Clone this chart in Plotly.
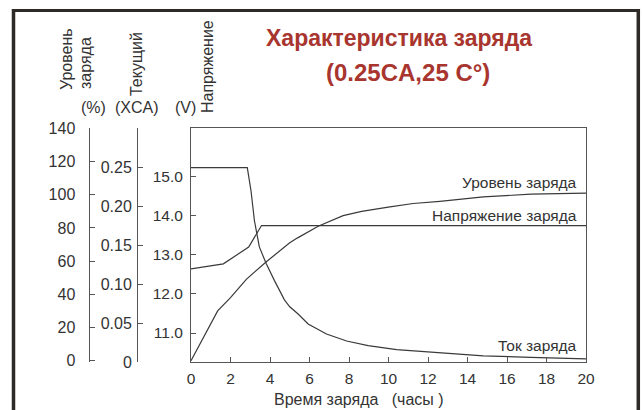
import plotly.graph_objects as go

# ---------------- data ----------------
hours_current = [0, 2.85, 3.04, 3.21, 3.46, 3.8, 4.22, 4.73, 5.0, 5.41, 5.93, 6.86, 7.88, 8.97, 10.41, 12.6, 14.8, 17.2, 20]
current = [0.25, 0.25, 0.22, 0.182, 0.148, 0.127, 0.105, 0.080, 0.071, 0.062, 0.049, 0.036, 0.027, 0.021, 0.016, 0.012, 0.008, 0.006, 0.004]

hours_voltage = [0, 1.64, 2.92, 3.57, 20]
voltage = [12.64, 12.77, 13.2, 13.75, 13.75]

hours_soc = [0, 1.35, 2.0, 2.8, 3.8, 4.4, 5.0, 5.4, 6.44, 7.7, 8.64, 10.07, 11.25, 12.6, 14.8, 17.2, 20]
soc = [0, 30, 38, 49, 59.5, 65, 71, 74, 81, 87.4, 90, 92.7, 94.7, 96, 98.7, 100.3, 101]

x_ticks = [0, 2, 4, 6, 8, 10, 12, 14, 16, 18, 20]
v_ticks = [11, 12, 13, 14, 15]
v_labels = ["11.0", "12.0", "13.0", "14.0", "15.0"]
c_ticks = [0, 0.05, 0.10, 0.15, 0.20, 0.25, 0.30]
c_labels = ["0", "0.05", "0.10", "0.15", "0.20", "0.25", ""]
p_ticks = [0, 20, 40, 60, 80, 100, 120, 140]

series_names = ["Уровень заряда", "Напряжение заряда", "Ток заряда"]

# ---------------- layout helpers ----------------
W, H = 643, 410
ML, MR, MT, MB = 20, 57, 128, 48
PW = W - ML - MR
PH = H - MT - MB


def px(x):
    return (x - ML) / PW


def py(y):
    return (H - MB - y) / PH


FONT = "Liberation Sans, Arial, sans-serif"
TXT = "#333333"
LINE = "#3a3a3a"

fig = go.Figure()
fig.add_trace(go.Scatter(x=hours_soc, y=soc, mode="lines", yaxis="y3",
                         line=dict(color=LINE, width=1.2), name=series_names[0]))
fig.add_trace(go.Scatter(x=hours_voltage, y=voltage, mode="lines", yaxis="y",
                         line=dict(color=LINE, width=1.2), name=series_names[1]))
fig.add_trace(go.Scatter(x=hours_current, y=current, mode="lines", yaxis="y2",
                         line=dict(color=LINE, width=1.2), name=series_names[2]))


def axis_common(size):
    return dict(showgrid=False, zeroline=False, showline=True, linecolor="#555",
                linewidth=1, ticks="inside", ticklen=5, tickcolor="#555",
                tickfont=dict(family=FONT, size=size, color=TXT))


fig.update_layout(
    width=W, height=H,
    margin=dict(l=ML, r=MR, t=MT, b=MB, pad=0),
    paper_bgcolor="white", plot_bgcolor="white",
    showlegend=False,
    font=dict(family=FONT, color=TXT),
    xaxis=dict(domain=[px(191), 1], range=[0, 20], tickvals=x_ticks,
               mirror=True, ticklabelstandoff=2, **axis_common(15.5)),
    yaxis=dict(range=[10.258, 16.246], tickvals=v_ticks, ticktext=v_labels,
               mirror=True, ticklabelstandoff=4, **axis_common(15.5)),
    yaxis2=dict(overlaying="y", anchor="free", position=px(137), side="left",
                range=[0, 0.301], tickvals=c_ticks, ticktext=c_labels,
                ticklabelstandoff=2, **axis_common(16)),
    yaxis3=dict(overlaying="y", anchor="free", position=px(88.5), side="left",
                range=[-0.8, 140.2], tickvals=p_ticks,
                ticklabelstandoff=10, **axis_common(16)),
)

ann = []


def text(x, y, s, size=15, angle=0, xanchor="center", yanchor="middle", color=TXT, bold=False, align="center"):
    ann.append(dict(x=px(x), y=py(y), xref="paper", yref="paper", text=("<b>%s</b>" % s) if bold else s,
                    showarrow=False, textangle=angle, xanchor=xanchor, yanchor=yanchor, align=align,
                    font=dict(family=FONT, size=size, color=color)))


# title
text(399, 38, "Характеристика заряда", size=23, color="#a8352e", bold=True)
text(408, 72, "(0.25CA,25 C°)", size=24, color="#a8352e", bold=True)

# axis titles (rotated)
text(67, 59, "Уровень", size=16, angle=-90)
text(85, 63, "заряда", size=16, angle=-90)
text(136, 64, "Текущий", size=16, angle=-90)
text(207, 67, "Напряжение", size=16, angle=-90)
text(93, 107, "(%)", size=16)
text(137, 107, "(XCA)", size=16)
text(186, 107, "(V)", size=16)

# x title
text(359, 399, "Время заряда&nbsp;&nbsp;&nbsp;(часы )", size=16)

# series labels
text(579, 182, series_names[0], size=15.5, xanchor="right")
text(579, 215, series_names[1], size=15.5, xanchor="right")
text(579, 345, series_names[2], size=15.5, xanchor="right")

fig.update_layout(annotations=ann)

# frame
border = "#2e2a28"
fig.add_shape(type="line", xref="paper", yref="paper", x0=px(12), x1=px(640), y0=py(10.5), y1=py(10.5),
              line=dict(color=border, width=3))
fig.add_shape(type="line", xref="paper", yref="paper", x0=px(13.5), x1=px(13.5), y0=py(9), y1=py(412),
              line=dict(color=border, width=3.5))
fig.add_shape(type="line", xref="paper", yref="paper", x0=px(638.3), x1=px(638.3), y0=py(9), y1=py(412),
              line=dict(color=border, width=3.5))

fig.write_html("out.html", config={"displayModeBar": False},
               post_script="document.body.style.margin='0px';document.body.style.overflow='hidden';")
